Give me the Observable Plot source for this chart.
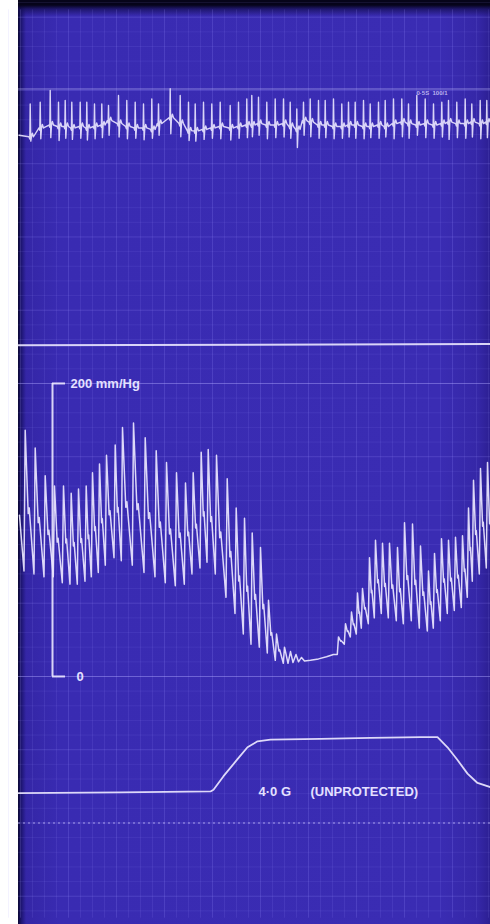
<!DOCTYPE html>
<html>
<head>
<meta charset="utf-8">
<script src="https://cdn.jsdelivr.net/npm/d3@7"></script>
<script src="https://cdn.jsdelivr.net/npm/@observablehq/plot@0.6"></script>
<style>
html, body { margin: 0; padding: 0; background: #ffffff; }
#chart {
  position: relative; width: 490px; height: 924px; overflow: hidden;
  background-image:
    linear-gradient(to bottom, #06041a 0px, #06041a 5px, rgba(20,14,80,0.7) 9px, rgba(0,0,0,0) 16px),
    linear-gradient(to right, #ffffff 0px, #ffffff 18px, #0a0733 18px, #1c146e 21px, #3426a6 26px, #392bb2 60px, #3a2cb3 440px, #3527a7 478px, #2c1f93 490px);
  background-repeat: no-repeat;
  background-size: 472px 16px, 100% 100%;
  background-position: 18px 0, 0 0;
}
#chart svg { display: block; }
</style>
</head>
<body>
<div id="chart"></div>
<script>
// ---------- data read from the recording ----------
// time axis: seconds of chart (x), blood pressure in mm Hg

// Blood pressure: beat peak times, systolic peaks, trough before each beat
const bpPeakT = [0.47,1.47,2.47,3.4,4.3,5.07,5.8,6.57,7.2,7.9,8.6,9.47,10.2,11.3,12.47,13.57,14.6,15.6,16.5,17.27,18.07,18.77,19.6,20.67,21.57,22.4,23.17,24.0,24.8,25.6,26.4,
                 31.8,32.5,33.1,33.7,34.2,34.9,35.5,36.2,36.9,37.7,38.4,39.2,40.0,40.8,41.4,42.1,42.8,43.5,44.2,44.8,45.3,46.0,46.7];
const bpSys = [168,156,137,130,130,125,128,130,139,145,151,158,170,173,163,154,146,139,132,139,153,155,151,135,115,108,98,88,52,29,20,
               27,36,44,57,60,81,93,91,91,88,105,104,89,72,84,94,93,95,96,115,134,142,146];
const bpDia = [72,70,68,68,64,63,63,65,68,71,76,81,79,76,71,68,64,62,63,70,74,78,70,54,43,29,22,20,16,11,9,
               15,22,27,29,33,36,40,43,40,38,36,38,33,31,33,38,43,45,47,54,65,70,74];
// non-pulsatile stretch (loss of head-level pressure)
const bpFlatT = [-0.1, 26.75, 27.0, 27.25, 27.55, 27.8, 28.1, 28.4, 29.0, 29.8, 30.6, 31.3];
const bpFlatV = [110, 9, 17, 9.5, 15, 10, 13, 10.5, 11, 12, 13.5, 15];

// ECG: R-wave times, baseline, R peak and S trough (mV)
const ecgT = [0.97,1.97,2.97,3.8,4.47,5.13,5.97,6.63,7.4,8.13,8.8,9.8,10.63,11.47,12.3,13.13,13.8,14.97,15.97,16.8,
              17.47,18.3,19.13,19.97,20.97,21.8,22.63,23.13,23.8,24.63,25.47,26.3,26.97,27.63,28.3,28.97,29.8,30.47,31.3,32.13,
              32.8,33.47,34.3,34.97,35.8,36.47,37.3,38.13,38.8,39.63,40.47,41.3,42.13,42.8,43.63,44.47,45.13,45.97,46.63];
const ecgBase = [-0.35,-0.05,0.05,0,0,-0.05,0,-0.05,0,0.05, 0.2,0.1,0,-0.05,-0.05,-0.1,0.1,0.3,0.1,-0.15,
                 -0.15,-0.1,-0.05,0,-0.05,0,0.05,0.05,0.1,0.05, 0.05,0.1,0,-0.1,0.2,0.15,0.05,0.05,0,0,
                 0.05,0.05,0,0,0.05,0,0.1,0.15,0.1,0.05, 0.1,0.05,0.1,0.15,0.1,0.1,0.15,0.1,0.15];
const ecgPeak = [0.77,0.83,1.23,0.83,0.89,0.83,0.83,0.83,0.77,0.77, 0.72,1.06,0.89,0.83,0.77,0.94,0.77,1.29,1.06,0.83,
                 0.77,0.83,0.77,0.83,0.72,0.83,0.94,1.06,1.0,0.83, 0.94,0.94,0.83,0.6,0.83,0.94,0.89,0.89,0.94,0.77,
                 0.83,0.83,0.89,0.77,0.83,0.89,0.94,0.94,0.77,1.06, 0.94,0.77,0.83,0.89,0.83,0.94,0.77,0.89,0.89];
const ecgTrough = [-0.5,-0.42,-0.38,-0.48,-0.4,-0.44,-0.4,-0.46,-0.42,-0.38, -0.3,-0.36,-0.42,-0.4,-0.45,-0.4,-0.3,-0.25,-0.35,-0.48,
                   -0.5,-0.44,-0.4,-0.42,-0.46,-0.4,-0.38,-0.35,-0.3,-0.42, -0.38,-0.36,-0.4,-0.72,-0.3,-0.35,-0.4,-0.38,-0.42,-0.4,
                   -0.36,-0.4,-0.42,-0.38,-0.4,-0.36,-0.42,-0.35,-0.4,-0.3, -0.38,-0.4,-0.36,-0.44,-0.38,-0.4,-0.36,-0.42,-0.38];

// Acceleration profile (G)
const gT   = [-0.2, 10, 19.0, 19.3, 20.3, 21.7, 22.7, 23.7, 25, 30, 35, 40, 41.7, 42.7, 43.7, 44.7, 45.7, 47];
const gVal = [0.9, 0.95, 1.0, 1.1, 1.9, 2.9, 3.6, 3.95, 4.05, 4.1, 4.15, 4.2, 4.2, 3.6, 2.85, 2.05, 1.5, 1.25];

// idle channel (zero signal)
const idleT = [-0.2, 47];
const idleV = [0, 0.9];

// labels
const bpScaleTicks = [200, 0];
const bpScaleLabels = ["200 mm/Hg", "0"];
const gLabel = "4·0 G";
const gNote = "(UNPROTECTED)";
const ecgNote = "0·5S  100/1";

// ---------- channel placement on the paper (mm Hg-equivalent units) ----------
const ECG_ZERO = 375.4, ECG_GAIN = 20;
const G_ZERO = -90.1, G_GAIN = 11.6;
const IDLE_ZERO = 226;
const TRACE = "#ebe7ff";

// build BP trace
const bp = [];
for (let i = 0; i < bpPeakT.length; i++) {
  const t = bpPeakT[i], s = bpSys[i], d = bpDia[i];
  bp.push({t: t - 0.12, v: d}, {t, v: s});
  const hasNext = i + 1 < bpPeakT.length;
  const gap = hasNext ? bpPeakT[i + 1] - t : 0.7;
  const dn = hasNext ? bpDia[i + 1] : d;
  if (gap < 1.5) {
    bp.push({t: t + 0.3 * gap, v: dn + 0.42 * (s - dn)});
    bp.push({t: t + 0.4 * gap, v: dn + 0.46 * (s - dn)});
    if (!hasNext) bp.push({t: t + gap - 0.12, v: dn});
  }
}
bpFlatT.forEach((t, i) => bp.push({t, v: bpFlatV[i]}));
bp.sort((a, b) => a.t - b.t);

// build ECG trace
const ecg = [{t: -0.15, v: -0.3}];
ecgT.forEach((t, i) => {
  const b = ecgBase[i];
  ecg.push({t: t - 0.12, v: b}, {t: t - 0.04, v: b - 0.08}, {t, v: ecgPeak[i]},
           {t: t + 0.06, v: ecgTrough[i]}, {t: t + 0.13, v: b},
           {t: t + 0.22, v: b + 0.12}, {t: t + 0.33, v: b});
});
ecg.push({t: 47.2, v: 0.15});

const gData = gT.map((t, i) => ({t, v: gVal[i]}));
const idle = idleT.map((t, i) => ({t, v: idleV[i]}));

const vGrid = d3.range(-1.2, 47.5, 1.2);
const hGrid = d3.range(-160, 461, 10);

const plot = Plot.plot({
  width: 490, height: 924,
  marginTop: 0, marginRight: 0, marginBottom: 0, marginLeft: 0,
  x: {domain: [-2, 47], range: [0, 490], axis: null},
  y: {domain: [-169.3, 461.4], range: [924, 0], axis: null},
  style: {background: "transparent", overflow: "visible"},
  marks: [
    // chart-paper grid
    Plot.ruleX(vGrid, {y1: -165, y2: 455, stroke: "#9a90ff", strokeOpacity: (d, i) => i % 4 === 1 ? 0.2 : 0.12, strokeWidth: 1}),
    Plot.ruleY(hGrid, {x1: -0.2, x2: 47, stroke: "#9a90ff", strokeOpacity: (d) => d % 50 === 0 ? 0.22 : 0.11, strokeWidth: 1}),
    Plot.ruleY([401], {x1: -0.2, x2: 47, stroke: "#c9c2ff", strokeOpacity: 0.55, strokeWidth: 1}),
    Plot.ruleY(bpScaleTicks, {x1: -0.2, x2: 47, stroke: "#b9b0ff", strokeOpacity: 0.32, strokeWidth: 1}),
    Plot.ruleY([-100], {x1: -0.2, x2: 47, stroke: "#c9c2ff", strokeOpacity: 0.5, strokeWidth: 1.5, strokeDasharray: "2,3"}),

    // idle channel
    Plot.line(idle, {x: "t", y: (d) => IDLE_ZERO + d.v, stroke: TRACE, strokeWidth: 2, strokeOpacity: 0.9}),

    // ECG
    Plot.line(ecg, {x: "t", y: (d) => ECG_ZERO + d.v * ECG_GAIN, stroke: TRACE, strokeWidth: 1.4, strokeOpacity: 0.9}),
    Plot.text([ecgNote], {x: 39.6, y: 398, text: (d) => d, fill: "#ddd8ff", fontSize: 6, textAnchor: "start", fontFamily: "Liberation Sans", fontWeight: "bold", fillOpacity: 0.8}),

    // BP scale bracket
    Plot.ruleX([3.2], {y1: bpScaleTicks[1], y2: bpScaleTicks[0], stroke: TRACE, strokeWidth: 2, strokeOpacity: 0.9}),
    Plot.ruleY(bpScaleTicks, {x1: 3.2, x2: 4.5, stroke: TRACE, strokeWidth: 2, strokeOpacity: 0.9}),
    Plot.text(bpScaleTicks, {x: (d, i) => i === 0 ? 5.0 : 5.6, y: (d) => d, text: (d, i) => bpScaleLabels[i],
      fill: "#e4e0ff", fontSize: 13, fontWeight: "bold", fontFamily: "Liberation Sans", textAnchor: "start", letterSpacing: 0.5}),

    // blood pressure
    Plot.line(bp, {x: "t", y: "v", stroke: TRACE, strokeWidth: 1.5, strokeOpacity: 0.92}),

    // G profile
    Plot.line(gData, {x: "t", y: (d) => G_ZERO + d.v * G_GAIN, stroke: TRACE, strokeWidth: 1.8, strokeOpacity: 0.92}),
    Plot.text([gLabel], {x: 23.8, y: G_ZERO + 1 * G_GAIN, text: (d) => d, fill: "#e4e0ff", fontSize: 13, fontWeight: "bold",
      fontFamily: "Liberation Sans", textAnchor: "start", letterSpacing: 2.2}),
    Plot.text([gNote], {x: 29.0, y: G_ZERO + 1 * G_GAIN, text: (d) => d, fill: "#e4e0ff", fontSize: 13, fontWeight: "bold",
      fontFamily: "Liberation Sans", textAnchor: "start", letterSpacing: 0.8})
  ]
});
document.getElementById("chart").appendChild(plot);
</script>
</body>
</html>
